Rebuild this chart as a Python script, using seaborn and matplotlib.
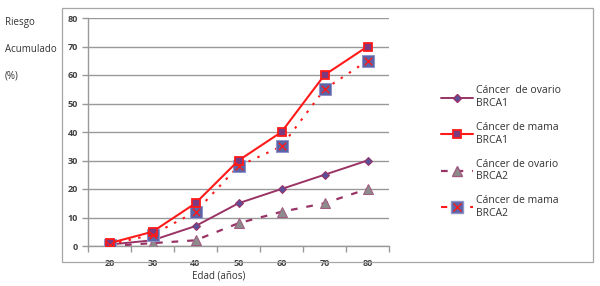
import matplotlib
matplotlib.use("Agg")
import matplotlib.pyplot as plt
from matplotlib.lines import Line2D
from matplotlib.patches import Rectangle
from matplotlib.legend_handler import HandlerTuple
import seaborn as sns
import pandas as pd

edad = [20, 30, 40, 50, 60, 70, 80]
ovario_brca1 = [0.5, 2, 7, 15, 20, 25, 30]
mama_brca1 = [1, 5, 15, 30, 40, 60, 70]
ovario_brca2 = [0, 1, 2, 8, 12, 15, 20]
mama_brca2 = [0.5, 4, 12, 28, 35, 55, 65]
labels = ["Cáncer  de ovario\nBRCA1", "Cáncer de mama\nBRCA1",
          "Cáncer de ovario\nBRCA2", "Cáncer de mama\nBRCA2"]

sns.set_theme(style="white")
plt.rcParams['font.family'] = ['Open Sans', 'DejaVu Sans']

fig = plt.figure(figsize=(6.0, 2.86), dpi=100)
fig.patches.append(Rectangle((62/600, 1-262/286), 531/600, 254/286, transform=fig.transFigure,
                             fill=False, edgecolor='#a6a6a6', linewidth=0.9, zorder=0))
ax = fig.add_axes([88/600, 1-246/286, 301/600, 228/286])

purple = '#993366'
red = '#ff1a1a'
df = pd.DataFrame({'edad': edad, 'o1': ovario_brca1, 'm1': mama_brca1,
                   'o2': ovario_brca2, 'm2': mama_brca2})

sns.lineplot(data=df, x='edad', y='o1', ax=ax, color=purple, lw=1.4, marker='D',
             markersize=4.5, markerfacecolor='#5b4f9a', markeredgecolor=purple, zorder=3)
sns.lineplot(data=df, x='edad', y='m1', ax=ax, color=red, lw=1.5, marker='s',
             markersize=5.5, markerfacecolor='#7a3a80', markeredgecolor=red, markeredgewidth=1.3, zorder=4)
sns.lineplot(data=df, x='edad', y='o2', ax=ax, color=purple, lw=1.6, marker='^',
             markersize=6.5, markerfacecolor='#8c8c8c', markeredgecolor='#a05a80',
             dashes=(3, 4), zorder=3)
sns.lineplot(data=df, x='edad', y='m2', ax=ax, color=red, lw=1.5, marker='s',
             markersize=8, markerfacecolor='#5c63a6', markeredgecolor='#8f95c8',
             dashes=(1.2, 3.5), zorder=3)
sns.scatterplot(data=df, x='edad', y='m2', ax=ax, marker='x', color=red, s=28,
                linewidth=1.0, zorder=5)

ax.set_xlim(15, 85)
ax.set_ylim(0, 80)
ax.set_xticks(edad)
ax.set_xticks([15, 25, 35, 45, 55, 65, 75, 85], minor=True)
ax.set_yticks(range(0, 81, 10))
ax.yaxis.grid(True, color='#999999', lw=1.0)
ax.set_axisbelow(True)
for s in ['top', 'right']:
    ax.spines[s].set_visible(False)
for s in ['left', 'bottom']:
    ax.spines[s].set_color('#999999')
    ax.spines[s].set_linewidth(1.0)
ax.tick_params(axis='x', which='major', length=0, pad=9, labelsize=6.5, labelcolor='#404040')
ax.tick_params(axis='x', which='minor', length=4, color='#999999', width=1.0, bottom=True)
ax.tick_params(axis='y', which='major', length=4, color='#999999', width=1.0, left=True,
               labelsize=6.5, labelcolor='#404040', pad=3)
for t in ax.get_xticklabels() + ax.get_yticklabels():
    t.set_fontweight('bold')
ax.set_xlabel('')
ax.set_ylabel('')

fig.text(219/600, 1-276/286, 'Edad (años)', ha='center', va='center', fontsize=7, color='#333333')
for txt, y in [('Riesgo', 23), ('Acumulado', 49), ('(%)', 76)]:
    fig.text(5/600, 1-y/286, txt, ha='left', va='center', fontsize=7, color='#333333')

h1 = Line2D([], [], color=purple, lw=1.4, marker='D', markersize=4.5,
            markerfacecolor='#5b4f9a', markeredgecolor=purple)
h2 = Line2D([], [], color=red, lw=1.5, marker='s', markersize=5.5,
            markerfacecolor='#7a3a80', markeredgecolor=red, markeredgewidth=1.3)
h3 = Line2D([], [], color=purple, lw=1.6, marker='^', markersize=6.5, markerfacecolor='#8c8c8c',
            markeredgecolor='#a05a80', dashes=(3, 4))
h4a = Line2D([], [], color=red, lw=1.5, marker='s', markersize=8, markerfacecolor='#5c63a6',
             markeredgecolor='#8f95c8', dashes=(3, 4))
h4b = Line2D([], [], color=red, lw=0, marker='x', markersize=5.5, markeredgewidth=1.0)
leg = fig.legend([h1, h2, h3, (h4a, h4b)], labels, loc='upper left',
                 bbox_to_anchor=(432/600, 1-76/286), frameon=False, fontsize=7.5,
                 handlelength=3.0, handletextpad=0.3, labelspacing=1.25,
                 handler_map={tuple: HandlerTuple(ndivide=1, pad=0)})
for t in leg.get_texts():
    t.set_color('#333333')

fig.savefig('out.png', dpi=100)
